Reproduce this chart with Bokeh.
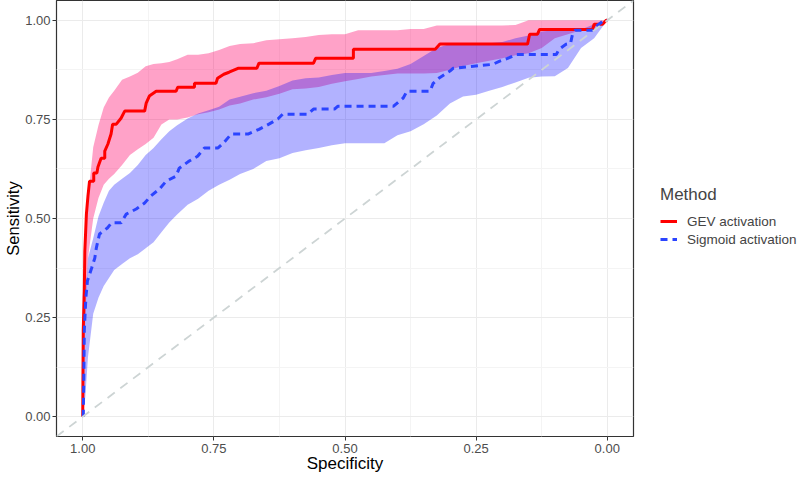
from bokeh.plotting import figure
from bokeh.models import (Range1d, FixedTicker, NumeralTickFormatter, Slope,
                          Legend, LegendItem, ColumnDataSource)
from bokeh.embed import file_html
from bokeh.resources import INLINE

# ---------------- data ----------------
TICKS = [0.0, 0.25, 0.5, 0.75, 1.0]
MINOR_TICKS = [0.125, 0.375, 0.625, 0.875]

SPEC_GRID = [1.0, 0.995, 0.99, 0.98, 0.97, 0.96, 0.95, 0.94, 0.925, 0.91,
             0.895, 0.88, 0.865, 0.85, 0.835, 0.82, 0.80, 0.78, 0.76, 0.74,
             0.72, 0.70, 0.675, 0.65, 0.625, 0.60, 0.575, 0.55, 0.525, 0.50,
             0.475, 0.45, 0.425, 0.40, 0.375, 0.35, 0.325, 0.30, 0.275, 0.25,
             0.225, 0.20, 0.175, 0.15, 0.125, 0.10, 0.075, 0.05, 0.025, 0.0]

GEV_UPPER = [0.30, 0.44, 0.55, 0.68, 0.735, 0.78, 0.805, 0.822, 0.85, 0.858,
             0.868, 0.884, 0.89, 0.892, 0.895, 0.902, 0.913, 0.913, 0.917, 0.925,
             0.935, 0.94, 0.942, 0.95, 0.952, 0.955, 0.958, 0.963, 0.965, 0.965,
             0.975, 0.975, 0.975, 0.975, 0.978, 0.978, 0.987, 0.987, 0.987, 0.987,
             0.987, 0.987, 0.988, 1.0, 1.0, 1.0, 1.0, 1.0, 1.0, 1.0]
GEV_LOWER = [0.0, 0.25, 0.40, 0.50, 0.552, 0.585, 0.60, 0.612, 0.635, 0.66,
             0.675, 0.688, 0.704, 0.737, 0.75, 0.75, 0.755, 0.763, 0.768, 0.775,
             0.785, 0.79, 0.80, 0.806, 0.815, 0.826, 0.828, 0.832, 0.84, 0.846,
             0.852, 0.858, 0.862, 0.866, 0.866, 0.866, 0.867, 0.875, 0.885, 0.892,
             0.898, 0.904, 0.912, 0.917, 0.93, 0.955, 0.965, 0.975, 0.98, 1.0]
SIG_UPPER = [0.05, 0.30, 0.40, 0.45, 0.505, 0.54, 0.57, 0.585, 0.60, 0.615,
             0.635, 0.66, 0.678, 0.70, 0.72, 0.735, 0.752, 0.765, 0.773, 0.782,
             0.80, 0.807, 0.816, 0.822, 0.834, 0.848, 0.854, 0.856, 0.862, 0.867,
             0.867, 0.867, 0.872, 0.878, 0.89, 0.91, 0.93, 0.94, 0.94, 0.94,
             0.942, 0.945, 0.955, 0.962, 0.972, 0.975, 0.976, 0.977, 0.99, 1.0]
SIG_LOWER = [0.0, 0.05, 0.15, 0.26, 0.30, 0.33, 0.35, 0.37, 0.385, 0.40,
             0.41, 0.425, 0.44, 0.465, 0.49, 0.51, 0.535, 0.55, 0.57, 0.585,
             0.598, 0.612, 0.625, 0.645, 0.652, 0.665, 0.672, 0.678, 0.685, 0.69,
             0.69, 0.69, 0.69, 0.71, 0.72, 0.738, 0.76, 0.79, 0.808, 0.812,
             0.822, 0.832, 0.843, 0.855, 0.858, 0.859, 0.88, 0.93, 0.955, 1.0]

GEV_SPEC = [1.000, 0.999, 0.997, 0.996, 0.993, 0.990, 0.987, 0.979, 0.979, 0.973,
            0.971, 0.965, 0.958, 0.958, 0.952, 0.946, 0.943, 0.936, 0.927, 0.920,
            0.882, 0.879, 0.873, 0.860, 0.822, 0.819, 0.787, 0.787, 0.746, 0.743,
            0.731, 0.721, 0.704, 0.668, 0.664, 0.560, 0.556, 0.484, 0.484, 0.328,
            0.319, 0.152, 0.148, 0.133, 0.129, 0.028, 0.025, 0.009, 0.002, 0.000]
GEV_SENS = [0.000, 0.217, 0.317, 0.418, 0.511, 0.557, 0.594, 0.594, 0.615, 0.615,
            0.630, 0.652, 0.652, 0.670, 0.688, 0.713, 0.738, 0.738, 0.753, 0.771,
            0.771, 0.791, 0.809, 0.821, 0.821, 0.831, 0.831, 0.841, 0.841, 0.854,
            0.864, 0.869, 0.879, 0.879, 0.892, 0.892, 0.904, 0.904, 0.927, 0.927,
            0.940, 0.940, 0.965, 0.965, 0.977, 0.977, 0.990, 0.990, 1.000, 1.000]

SIG_SPEC = [0.999, 0.998, 0.997, 0.994, 0.991, 0.983, 0.977, 0.974, 0.968, 0.953,
            0.945, 0.927, 0.917, 0.898, 0.882, 0.870, 0.854, 0.841, 0.822, 0.816,
            0.797, 0.781, 0.768, 0.742, 0.732, 0.717, 0.685, 0.664, 0.645, 0.628,
            0.619, 0.571, 0.560, 0.520, 0.514, 0.408, 0.389, 0.382, 0.338, 0.332,
            0.319, 0.300, 0.294, 0.218, 0.205, 0.190, 0.173, 0.097, 0.092, 0.078,
            0.070, 0.066, 0.061, 0.028, 0.021, 0.009, 0.000]
SIG_SENS = [0.000, 0.091, 0.217, 0.300, 0.343, 0.375, 0.400, 0.426, 0.461, 0.476,
            0.489, 0.489, 0.511, 0.524, 0.539, 0.557, 0.574, 0.594, 0.607, 0.627,
            0.645, 0.657, 0.678, 0.678, 0.690, 0.713, 0.713, 0.725, 0.738, 0.751,
            0.763, 0.763, 0.776, 0.776, 0.783, 0.783, 0.804, 0.821, 0.821, 0.841,
            0.856, 0.872, 0.879, 0.889, 0.897, 0.904, 0.914, 0.914, 0.927, 0.940,
            0.942, 0.967, 0.975, 0.975, 0.985, 0.997, 1.000]

SERIES = ["GEV activation", "Sigmoid activation"]
LEGEND_TITLE = "Method"

# ---------------- figure ----------------
FONT = "Liberation Sans"
p = figure(frame_width=577, frame_height=436,
           x_range=Range1d(1.05, -0.05), y_range=Range1d(-0.05, 1.05),
           output_backend="svg", toolbar_location=None,
           min_border_left=56, min_border_top=0, min_border_bottom=41,
           min_border_right=170,
           x_axis_label="Specificity", y_axis_label="Sensitivity")
p.background_fill_color = "white"
p.border_fill_color = "white"
p.outline_line_color = "#333333"
p.outline_line_width = 1.2

for ax in (p.xaxis[0], p.yaxis[0]):
    ax.ticker = FixedTicker(ticks=TICKS, minor_ticks=MINOR_TICKS)
    ax.formatter = NumeralTickFormatter(format="0.00")
    ax.axis_line_color = None
    ax.major_tick_line_color = "#333333"
    ax.major_tick_out = 4
    ax.major_tick_in = 0
    ax.minor_tick_line_color = None
    ax.major_label_text_font = FONT
    ax.major_label_text_font_size = "13px"
    ax.major_label_text_color = "#4D4D4D"
    ax.axis_label_text_font = FONT
    ax.axis_label_text_font_style = "normal"
    ax.axis_label_text_color = "black"
p.xaxis[0].axis_label_text_font_size = "17px"
p.xaxis[0].major_label_standoff = 3
p.xaxis[0].axis_label_standoff = -2
p.yaxis[0].axis_label_text_font_size = "16.5px"
p.yaxis[0].major_label_standoff = 2
p.yaxis[0].axis_label_standoff = 0

for g in (p.xgrid[0], p.ygrid[0]):
    g.grid_line_color = "#EBEBEB"
    g.grid_line_width = 1
    g.minor_grid_line_color = "#F4F4F4"
    g.minor_grid_line_width = 1

src_rib = ColumnDataSource(dict(spec=SPEC_GRID, gl=GEV_LOWER, gu=GEV_UPPER,
                                sl=SIG_LOWER, su=SIG_UPPER))
p.varea(x="spec", y1="gl", y2="gu", source=src_rib,
        fill_color="#FF0A6E", fill_alpha=0.38)
p.varea(x="spec", y1="sl", y2="su", source=src_rib,
        fill_color="#0000FF", fill_alpha=0.3)

diag = Slope(gradient=-1, y_intercept=1, line_color="#CDD4D4",
             line_width=1.8, line_dash="9 7", level="glyph")
p.add_layout(diag)

r_gev = p.line(GEV_SPEC, GEV_SENS, line_color="#FF0000", line_width=3)
r_sig = p.line(SIG_SPEC, SIG_SENS, line_color="#2B44FF", line_width=3,
               line_dash="7 5")

legend = Legend(items=[LegendItem(label=SERIES[0], renderers=[r_gev]),
                       LegendItem(label=SERIES[1], renderers=[r_sig])],
                location=(27, 188), title=LEGEND_TITLE,
                title_text_font=FONT, title_text_font_size="17px",
                title_text_font_style="normal", title_standoff=7,
                label_text_font=FONT, label_text_font_size="13.5px",
                glyph_width=17, glyph_height=18, label_height=18,
                label_standoff=10, spacing=0, padding=0, margin=0,
                border_line_color=None, background_fill_alpha=0)
p.add_layout(legend, "right")

open("out.html", "w").write(file_html(p, INLINE))
